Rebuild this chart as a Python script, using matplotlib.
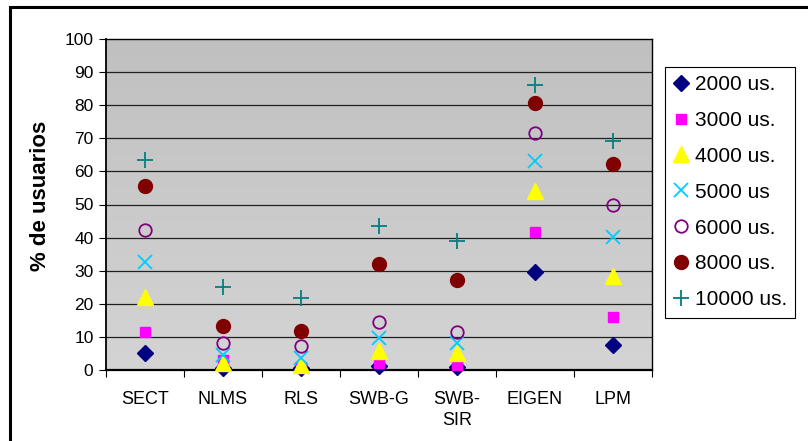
import matplotlib
matplotlib.use("Agg")
import matplotlib.pyplot as plt
import numpy as np
from matplotlib.patches import Rectangle
from matplotlib.colors import LinearSegmentedColormap

plt.rcParams['font.family'] = ['Liberation Sans', 'DejaVu Sans']

categories = ["SECT", "NLMS", "RLS", "SWB-G", "SWB-\nSIR", "EIGEN", "LPM"]
series_names = ["2000 us.", "3000 us.", "4000 us.", "5000 us", "6000 us.", "8000 us.", "10000 us."]
v2000 = [5.0, 0.5, 0.5, 1.2, 0.8, 29.7, 7.6]
v3000 = [11.4, 3.0, 1.0, 2.2, 1.5, 41.8, 16.0]
v4000 = [22.1, 2.0, 1.5, 5.7, 5.0, 54.2, 28.5]
v5000 = [32.7, 4.5, 3.5, 9.6, 8.1, 63.0, 40.3]
v6000 = [42.2, 8.3, 7.3, 14.4, 11.4, 71.6, 49.9]
v8000 = [55.6, 13.4, 11.9, 32.0, 27.3, 80.8, 62.2]
v10000 = [63.4, 25.0, 21.9, 43.4, 38.9, 86.1, 69.2]
yticks = [0, 10, 20, 30, 40, 50, 60, 70, 80, 90, 100]
ylabel = "% de usuarios"

values = [v2000, v3000, v4000, v5000, v6000, v8000, v10000]
styles = [
    dict(marker='D', color='#000080', ms=8, mfc='#000080', mec='#000080', mew=1),
    dict(marker='s', color='#ff00ff', ms=7, mfc='#ff00ff', mec='#ff00ff', mew=1),
    dict(marker='^', color='#ffff00', ms=11, mfc='#ffff00', mec='#ffff00', mew=1),
    dict(marker='x', color='#00ccff', ms=10, mfc='none', mec='#00ccff', mew=1.3),
    dict(marker='o', color='#800080', ms=9, mfc='none', mec='#800080', mew=1.3),
    dict(marker='o', color='#800000', ms=10, mfc='#800000', mec='#800000', mew=1),
    dict(marker='+', color='#008080', ms=12, mfc='none', mec='#008080', mew=1.3),
]

W, H = 808, 441
fig = plt.figure(figsize=(W / 100, H / 100), dpi=100)

# outer frame
fig.patches.append(Rectangle((10 / W, -0.05), 1.2, 1 - 7 / H + 0.05, transform=fig.transFigure,
                             fill=False, edgecolor='black', lw=2.2, zorder=0))

ax = fig.add_axes([106 / W, 1 - 370 / H, 546 / W, 331 / H])
x = np.arange(len(categories))
ax.set_xlim(-0.5, len(categories) - 0.5)
ax.set_ylim(0, 100)

cmap = LinearSegmentedColormap.from_list('g', ['#d4d4d4', '#c0c0c0'])
grad = np.linspace(0, 1, 256).reshape(-1, 1)
ax.imshow(grad, aspect='auto', cmap=cmap, origin='lower',
          extent=(-0.5, len(categories) - 0.5, 0, 100), zorder=0)

for yv in yticks[1:-1]:
    ax.axhline(yv, color='#202020', lw=0.9, zorder=1)

handles = []
for vals, name, st in zip(values, series_names, styles):
    h, = ax.plot(x, vals, linestyle='none', label=name, zorder=3, clip_on=False, **st)
    handles.append(h)

ax.set_yticks(yticks)
ax.set_yticklabels([str(t) for t in yticks], fontsize=12.5)
ax.set_xticks(np.arange(len(categories) + 1) - 0.5)
ax.set_xticklabels([])
ax.set_xticks(x, minor=True)
ax.set_xticklabels(categories, minor=True, linespacing=1.3, va='top', fontsize=13)
ax.tick_params(axis='x', which='minor', length=0, pad=15)
ax.tick_params(axis='x', which='major', length=5, direction='out', color='black')
ax.tick_params(axis='y', length=5, direction='out', pad=4)

for s in ax.spines.values():
    s.set_color('black')
    s.set_linewidth(1.0)
ax.spines['bottom'].set_linewidth(1.6)
ax.spines['left'].set_linewidth(1.3)

ax.set_ylabel(ylabel, fontsize=16, fontweight='bold')
ax.yaxis.set_label_coords((51 - 106) / 546, (370 - 196) / 331)

leg = fig.legend(handles=handles, loc='upper left',
                 bbox_to_anchor=(664.7 / W, 1 - 66.7 / H), fontsize=15,
                 frameon=True, fancybox=False, edgecolor='black', framealpha=1,
                 labelspacing=0.81, handlelength=0.8, handletextpad=0.25,
                 borderpad=0.4, borderaxespad=0)
leg.get_frame().set_linewidth(0.8)

fig.savefig('out.png', dpi=100)
